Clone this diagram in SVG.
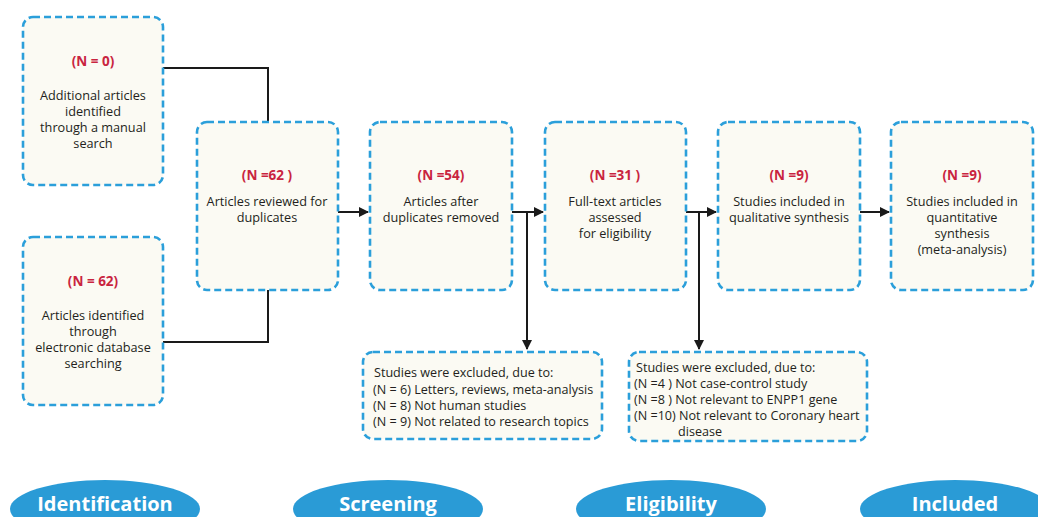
<svg xmlns="http://www.w3.org/2000/svg" width="1038" height="517" viewBox="0 0 1038 517">
<style>
.box{fill:#fbfaf3;stroke:#2b9fda;stroke-width:2.6;stroke-dasharray:7 4}
.n{font-family:"Open Sans","Noto Sans",sans-serif;font-size:13.5px;font-weight:bold;fill:#c9243f;text-anchor:middle}
.t{font-family:"Open Sans","Noto Sans",sans-serif;font-size:12.7px;fill:#231f20;text-anchor:middle}
.l{font-family:"Open Sans","Noto Sans",sans-serif;font-size:12.6px;fill:#231f20}
.ln{fill:none;stroke:#1a1a1a;stroke-width:2}
.ph{fill:#2a9bd6}
.pt{font-family:"Open Sans","Noto Sans",sans-serif;font-size:20px;font-weight:bold;fill:#ffffff;text-anchor:middle}
</style>
<defs>
<marker id="ah" viewBox="0 0 10 10" refX="9" refY="5" markerWidth="5" markerHeight="5" orient="auto"><path d="M0,0 L10,5 L0,10 z" fill="#1a1a1a"/></marker>
</defs>
<rect width="1038" height="517" fill="#ffffff"/>
<g id="connectors">
<polyline class="ln" points="163,68 268,68 268,122"/>
<polyline class="ln" points="163,342 268,342 268,290"/>
<line class="ln" x1="338" y1="212" x2="368" y2="212" marker-end="url(#ah)"/>
<line class="ln" x1="512" y1="212" x2="543" y2="212" marker-end="url(#ah)"/>
<line class="ln" x1="527" y1="212" x2="527" y2="349" marker-end="url(#ah)"/>
<line class="ln" x1="686" y1="212" x2="716" y2="212" marker-end="url(#ah)"/>
<line class="ln" x1="699" y1="212" x2="699" y2="349" marker-end="url(#ah)"/>
<line class="ln" x1="860" y1="212" x2="889" y2="212" marker-end="url(#ah)"/>
</g>
<g id="manual">
<rect class="box" x="23" y="17" width="140" height="168" rx="10"/>
<text class="n" x="93" y="66">(N = 0)</text>
<text class="t" x="93" y="100">Additional articles</text>
<text class="t" x="93" y="116">identified</text>
<text class="t" x="93" y="132">through a manual</text>
<text class="t" x="93" y="148">search</text>
</g>
<g id="database">
<rect class="box" x="23" y="237" width="140" height="168" rx="10"/>
<text class="n" x="93" y="286">(N = 62)</text>
<text class="t" x="93" y="320">Articles identified</text>
<text class="t" x="93" y="336">through</text>
<text class="t" x="93" y="352">electronic database</text>
<text class="t" x="93" y="368">searching</text>
</g>
<g id="reviewed">
<rect class="box" x="197" y="122" width="141" height="168" rx="10"/>
<text class="n" x="267" y="180">(N =62 )</text>
<text class="t" x="267" y="206">Articles reviewed for</text>
<text class="t" x="267" y="222">duplicates</text>
</g>
<g id="after">
<rect class="box" x="370" y="122" width="142" height="168" rx="10"/>
<text class="n" x="441" y="180">(N =54)</text>
<text class="t" x="441" y="206">Articles after</text>
<text class="t" x="441" y="222">duplicates removed</text>
</g>
<g id="fulltext">
<rect class="box" x="545" y="122" width="141" height="168" rx="10"/>
<text class="n" x="615" y="180">(N =31 )</text>
<text class="t" x="615" y="206">Full-text articles</text>
<text class="t" x="615" y="222">assessed</text>
<text class="t" x="615" y="238">for eligibility</text>
</g>
<g id="qualitative">
<rect class="box" x="718" y="122" width="142" height="168" rx="10"/>
<text class="n" x="789" y="180">(N =9)</text>
<text class="t" x="789" y="206">Studies included in</text>
<text class="t" x="789" y="222">qualitative synthesis</text>
</g>
<g id="quantitative">
<rect class="box" x="891" y="122" width="142" height="168" rx="10"/>
<text class="n" x="962" y="180">(N =9)</text>
<text class="t" x="962" y="206">Studies included in</text>
<text class="t" x="962" y="222">quantitative</text>
<text class="t" x="962" y="238">synthesis</text>
<text class="t" x="962" y="254">(meta-analysis)</text>
</g>
<g id="excluded1">
<rect class="box" x="363" y="352" width="239" height="87" rx="10"/>
<text class="l" x="374" y="377">Studies were excluded, due to:</text>
<text class="l" x="373" y="394">(N = 6) Letters, reviews, meta-analysis</text>
<text class="l" x="373" y="410">(N = 8) Not human studies</text>
<text class="l" x="373" y="426">(N = 9) Not related to research topics</text>
</g>
<g id="excluded2">
<rect class="box" x="629" y="352" width="238" height="89" rx="10"/>
<text class="l" x="636" y="372">Studies were excluded, due to:</text>
<text class="l" x="634" y="388">(N =4 ) Not case-control study</text>
<text class="l" x="634" y="404">(N =8 ) Not relevant to ENPP1 gene</text>
<text class="l" x="634" y="420">(N =10) Not relevant to Coronary heart</text>
<text class="l" x="678" y="436">disease</text>
</g>
<g id="phases">
<ellipse class="ph" cx="105" cy="509" rx="95" ry="29"/>
<text class="pt" x="105" y="511">Identification</text>
<ellipse class="ph" cx="388" cy="509" rx="95" ry="29"/>
<text class="pt" x="388" y="511">Screening</text>
<ellipse class="ph" cx="671" cy="509" rx="95" ry="29"/>
<text class="pt" x="671" y="511">Eligibility</text>
<ellipse class="ph" cx="955" cy="509" rx="95" ry="29"/>
<text class="pt" x="955" y="511">Included</text>
</g>
</svg>
